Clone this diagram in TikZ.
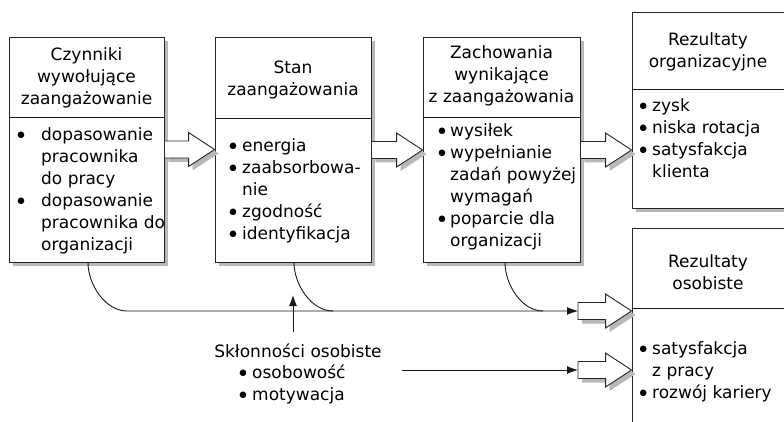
\documentclass[tikz,border=0pt]{standalone}
\usepackage{fontspec}
\setmainfont{DejaVu Sans}
\usetikzlibrary{arrows.meta,shadows,calc}

\tikzset{
  box/.style={draw=black!85, line width=0.9pt, fill=white, rectangle, inner sep=0pt,
    drop shadow={shadow xshift=4pt, shadow yshift=-4pt, fill=black!28, opacity=1}},
  txt/.style={inner sep=0pt, font=\fontsize{17}{22}\selectfont},
  conn/.style={line width=0.9pt, draw=black!90},
  tipped/.style={-{Latex[length=11pt,width=8pt]}},
  fatarrow/.style={draw=black!85, line width=0.9pt, fill=white},
  fatshadow/.style={fill=black!28},
}

% list bullet: a filled dot in a fixed-width slot
\newcommand\bul{\makebox[10pt]{\raisebox{3.4pt}{\fontsize{8.5}{10}\selectfont ●}}}

% hollow block arrow from tail #1 to tip #2 (horizontal)
\newcommand\blockarr[2]{%
  \path[fatshadow] let \p1=(#1), \p2=(#2) in
    (\x1+4pt,\y1+4.5pt) -- (\x2-22pt,\y1+4.5pt) -- (\x2-22pt,\y1+13pt)
    -- (\x2+4pt,\y1-4pt) -- (\x2-22pt,\y1-21pt) -- (\x2-22pt,\y1-12.5pt)
    -- (\x1+4pt,\y1-12.5pt) -- cycle;
  \path[fatarrow] let \p1=(#1), \p2=(#2) in
    (\x1,\y1+8.5pt) -- (\x2-26pt,\y1+8.5pt) -- (\x2-26pt,\y1+17pt)
    -- (\x2,\y1) -- (\x2-26pt,\y1-17pt) -- (\x2-26pt,\y1-8.5pt)
    -- (\x1,\y1-8.5pt) -- cycle;
}

\begin{document}
\begin{tikzpicture}[x=1pt,y=-1pt]
\useasboundingbox (0,0) rectangle (784,422);
\clip (0,0) rectangle (784,422);
\fill[white] (0,0) rectangle (784,422);

% main boxes
\node[box, minimum width=155pt, minimum height=225pt] (b1) at (86.5,149.5) {};
\node[box, minimum width=156pt, minimum height=225pt] (b2) at (293,149.5) {};
\node[box, minimum width=157pt, minimum height=225pt] (b3) at (501.5,149.5) {};
\node[box, minimum width=170pt, minimum height=196pt] (b4) at (717,110) {};
\node[box, minimum width=170pt, minimum height=214pt] (b5) at (717,335) {};

% header separators
\draw[conn] (b1.west |- 0,117) -- (b1.east |- 0,117);
\draw[conn] (b2.west |- 0,118) -- (b2.east |- 0,118);
\draw[conn] (b3.west |- 0,117) -- (b3.east |- 0,117);
\draw[conn] (b4.west |- 0,89) -- (b4.east |- 0,89);
\draw[conn] (b5.west |- 0,308) -- (b5.east |- 0,308);

% headers
\node[txt, align=center] (h1) at (86.5,78) {Czynniki\\wywołujące\\zaangażowanie};
\node[txt, align=center] (h2) at (293,80) {Stan\\zaangażowania};
\node[txt, align=center] (h3) at (501.5,76) {Zachowania\\wynikające\\z zaangażowania};
\node[txt, align=center] (h4) at (708,52) {Rezultaty\\organizacyjne};
\node[txt, align=center] (h5) at (708,272) {Rezultaty\\osobiste};

% item lists
\node[txt, anchor=north west] (l1) at (16,125) {\begin{tabular}{@{}l@{\hspace{15pt}}l@{}}
\bul & dopasowanie\\ & pracownika\\ & do pracy\\
\bul & dopasowanie\\ & pracownika do\\ & organizacji\end{tabular}};
\node[txt, anchor=north west] (l2) at (228,136) {\begin{tabular}{@{}l@{\hspace{4pt}}l@{}}
\bul & energia\\ \bul & zaabsorbowa-\\ & nie\\ \bul & zgodność\\ \bul & identyfikacja\end{tabular}};
\node[txt, anchor=north west] (l3) at (437,121) {\begin{tabular}{@{}l@{\hspace{3pt}}l@{}}
\bul & wysiłek\\ \bul & wypełnianie\\ & zadań powyżej\\ & wymagań\\
\bul & poparcie dla\\ & organizacji\end{tabular}};
\node[txt, anchor=north west] (l4) at (638,96) {\begin{tabular}{@{}l@{\hspace{4pt}}l@{}}
\bul & zysk\\ \bul & niska rotacja\\ \bul & satysfakcja\\ & klienta\end{tabular}};
\node[txt, anchor=north west] (l5) at (638,339) {\begin{tabular}{@{}l@{\hspace{4pt}}l@{}}
\bul & satysfakcja\\ & z pracy\\ \bul & rozwój kariery\end{tabular}};

% personal dispositions
\node[txt] (sk) at (298,351) {Skłonności osobiste};
\node[txt, anchor=north west] (skl) at (238,363) {\begin{tabular}{@{}l@{\hspace{4pt}}l@{}}
\bul & osobowość\\ \bul & motywacja\end{tabular}};

% block arrows
\coordinate (t1) at (b1.east |- 0,149.5);
\coordinate (t2) at (b2.east |- 0,150);
\coordinate (t3) at (b3.east |- 0,150);
\coordinate (t4) at (578,311);
\coordinate (t5) at (578,370);
\blockarr{t1}{b2.west |- t1}
\blockarr{t2}{b3.west |- t2}
\blockarr{t3}{b4.west |- t3}
\blockarr{t4}{b5.west |- t4}
\blockarr{t5}{b5.west |- t5}

% connectors into the personal outcomes
\draw[conn, tipped] (b1.south -| 88,0) to[out=-90,in=180, looseness=0.9] (127,311) -- (t4);
\draw[conn] (b2.south -| 294,0) to[out=-90,in=180, looseness=0.9] (333,311);
\draw[conn] (b3.south -| 505,0) to[out=-90,in=180, looseness=0.9] (543,311);
\coordinate (u0) at (293,332);
\coordinate (u1) at (293,295);
\draw[conn, tipped] (u0) -- (u1);
\coordinate (s0) at (402,370);
\draw[conn, tipped] (s0) -- (t5);
\end{tikzpicture}
\end{document}
